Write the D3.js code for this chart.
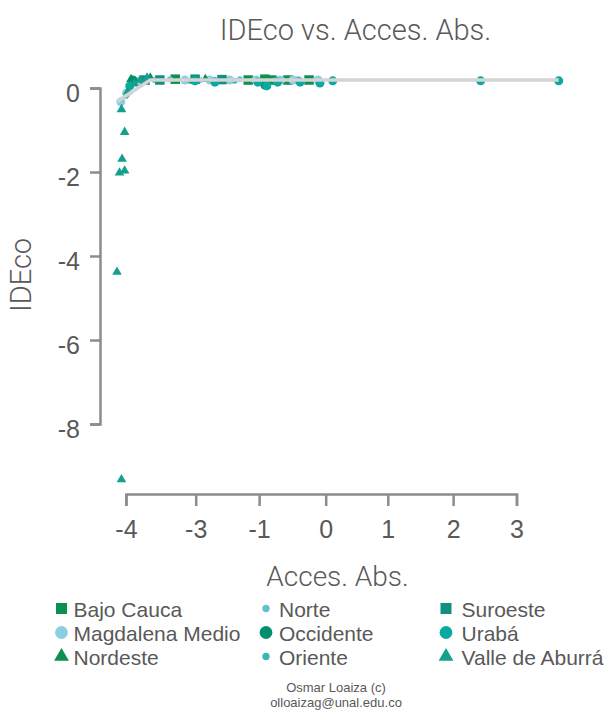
<!DOCTYPE html>
<html>
<head>
<meta charset="utf-8">
<script src="https://cdn.jsdelivr.net/npm/d3@7"></script>
<style>
  html, body { margin: 0; padding: 0; background: #fff; }
  svg { display: block; font-family: 'Liberation Sans', Arial, sans-serif; }
</style>
</head>
<body>
<svg id="chart" width="609" height="711"></svg>
<script>
// values: [Acces. Abs., IDEco]
const bajoCauca = [[-2.35, 0.21], [-1.21, 0.19], [-0.95, 0.21], [-0.84, 0.19], [-0.59, 0.19], [-0.26, 0.19]];
const magdalenaMedio = [[-3.20, -0.33], [-3.11, -0.12], [-2.93, 0.14], [-2.20, 0.19], [-1.81, 0.19], [-1.50, 0.19],
  [-1.09, 0.19], [-0.71, 0.19], [-0.51, 0.19], [-0.12, 0.19]];
const nordeste = [[-3.04, 0.21], [-2.74, 0.24], [-1.88, 0.21]];
const norte = [[-2.82, 0.19], [-2.43, 0.21], [-1.96, 0.19], [-1.34, 0.21], [-0.67, 0.19], [-0.43, 0.21]];
const occidente = [[-3.01, 0.19], [-0.95, 0.07]];
const oriente = [[-3.12, -0.19], [-2.67, 0.19], [-2.12, 0.17], [-1.73, 0.19], [-1.42, 0.17], [-0.79, 0.19]];
const suroeste = [[-2.82, 0.19], [-2.59, 0.19], [-2.04, 0.21], [-1.62, 0.20]];
const uraba = [[-3.06, 0.05], [-2.04, 0.17], [-1.73, 0.14], [-1.06, 0.14], [-0.92, 0.05], [-0.75, 0.14],
  [-0.40, 0.14], [-0.09, 0.12], [0.11, 0.17], [2.42, 0.17], [3.64, 0.17]];
const valleAburra = [[-3.19, -0.51], [-3.14, -1.05], [-3.18, -1.69], [-3.22, -2.02], [-3.14, -1.97],
  [-3.26, -4.38], [-3.19, -9.32], [-3.09, -0.08], [-2.99, 0.10], [-2.90, 0.19], [-2.79, 0.24]];

// grey trend line
const trend = [[-3.26, -0.32], [-2.74, 0.19], [3.64, 0.19]];

const Y_TICKS = [0, -2, -4, -6, -8];
const X_TICK_POS = [-3.12, -2.03, -1.04, 0, 0.97, 1.99, 2.98];
const X_TICK_LABELS = ['-4', '-3', '-1', '0', '1', '2', '3'];

const REGIONS = [
  { name: 'Bajo Cauca', data: bajoCauca },
  { name: 'Magdalena Medio', data: magdalenaMedio },
  { name: 'Nordeste', data: nordeste },
  { name: 'Norte', data: norte },
  { name: 'Occidente', data: occidente },
  { name: 'Oriente', data: oriente },
  { name: 'Suroeste', data: suroeste },
  { name: 'Urabá', data: uraba },
  { name: 'Valle de Aburrá', data: valleAburra },
];

// shape, colour, plot size, legend size
const STYLE = {
  'Bajo Cauca':      { shape: d3.symbolSquare,   color: '#0a9150', size: 90, key: 121 },
  'Magdalena Medio': { shape: d3.symbolCircle,   color: '#8bcfe0', size: 64, key: 128 },
  'Nordeste':        { shape: d3.symbolTriangle, color: '#0b8f55', size: 40, key: 95 },
  'Norte':           { shape: d3.symbolCircle,   color: '#62c1cf', size: 26, key: 42 },
  'Occidente':       { shape: d3.symbolCircle,   color: '#058e6a', size: 64, key: 128 },
  'Oriente':         { shape: d3.symbolCircle,   color: '#38b7b5', size: 26, key: 42 },
  'Suroeste':        { shape: d3.symbolSquare,   color: '#0f9080', size: 90, key: 121 },
  'Urabá':           { shape: d3.symbolCircle,   color: '#0aa9a1', size: 64, key: 128 },
  'Valle de Aburrá': { shape: d3.symbolTriangle, color: '#15a08e', size: 40, key: 95 },
};

const TEXT = '#595959';
const AXIS = '#8c8c8c';
const LIGHT = 'Roboto, sans-serif';
const PLOT = { left: 108, right: 569, top: 67, bottom: 487 };

const svg = d3.select('#chart');

const xScale = d3.scaleLinear().domain([-3.4, 3.8]).range([PLOT.left, PLOT.right]);
const yScale = d3.scaleLinear().domain([-9.5, 0.5]).range([PLOT.bottom, PLOT.top]);

// range-frame style axes: the line only spans the first to last tick
const yAxisScale = yScale.copy().domain(d3.extent(Y_TICKS)).range(d3.extent(Y_TICKS).map(yScale));
const xAxisScale = xScale.copy().domain(d3.extent(X_TICK_POS)).range(d3.extent(X_TICK_POS).map(xScale));

const yAxisG = svg.append('g')
  .attr('transform', 'translate(100,0)')
  .call(d3.axisLeft(yAxisScale).tickValues(Y_TICKS).tickSize(10).tickPadding(10).tickFormat((d) => String(d)));

const xAxisG = svg.append('g')
  .attr('transform', 'translate(0,494)')
  .call(d3.axisBottom(xAxisScale).tickValues(X_TICK_POS).tickSize(12).tickPadding(14)
    .tickFormat((d, i) => X_TICK_LABELS[i]));

[yAxisG, xAxisG].forEach((g) => {
  g.select('.domain').attr('stroke', AXIS).attr('stroke-width', 2.5);
  g.selectAll('.tick line').attr('stroke', AXIS).attr('stroke-width', 2.5);
  g.selectAll('.tick text').attr('fill', TEXT).attr('font-size', 25)
    .attr('font-family', "'Liberation Sans', Arial, sans-serif");
});
yAxisG.selectAll('.tick text').attr('dy', '0.55em');

// points
const pointsG = svg.append('g');
REGIONS.forEach((r) => {
  const st = STYLE[r.name];
  pointsG.selectAll(null)
    .data(r.data)
    .enter()
    .append('path')
    .attr('d', d3.symbol().type(st.shape).size(st.size))
    .attr('transform', (d) => `translate(${xScale(d[0])},${yScale(d[1])})`)
    .attr('fill', st.color);
});

// grey line drawn over the points
svg.append('path')
  .datum(trend)
  .attr('fill', 'none')
  .attr('stroke', '#d4d4d4')
  .attr('stroke-width', 3.5)
  .attr('stroke-linejoin', 'round')
  .attr('d', d3.line().x((d) => xScale(d[0])).y((d) => yScale(d[1])));

// titles
svg.append('text')
  .attr('x', 355.5).attr('y', 40)
  .attr('text-anchor', 'middle')
  .attr('font-family', LIGHT)
  .attr('font-weight', 300)
  .attr('font-size', 29)
  .attr('fill', TEXT)
  .text('IDEco vs. Acces. Abs.');

svg.append('text')
  .attr('x', 337.5).attr('y', 586)
  .attr('text-anchor', 'middle')
  .attr('font-family', LIGHT)
  .attr('font-weight', 300)
  .attr('font-size', 28)
  .attr('fill', TEXT)
  .text('Acces. Abs.');

svg.append('text')
  .attr('transform', 'translate(31,275) rotate(-90)')
  .attr('text-anchor', 'middle')
  .attr('font-family', LIGHT)
  .attr('font-weight', 300)
  .attr('font-size', 29)
  .attr('fill', TEXT)
  .text('IDEco');

// legend, filled column by column
const LEG_COL_SYM = [61.5, 266, 446];
const LEG_COL_TXT = [73.5, 279, 461.5];
const LEG_ROW = [608.5, 632.5, 656.5];

const legendG = svg.append('g');
REGIONS.forEach((r, i) => {
  const col = Math.floor(i / 3);
  const row = i % 3;
  const st = STYLE[r.name];
  const cy = LEG_ROW[row];
  legendG.append('path')
    .attr('d', d3.symbol().type(st.shape).size(st.key))
    .attr('transform', `translate(${LEG_COL_SYM[col]},${cy})`)
    .attr('fill', st.color);
  legendG.append('text')
    .attr('x', LEG_COL_TXT[col])
    .attr('y', cy + 8)
    .attr('font-size', 21)
    .attr('fill', TEXT)
    .text(r.name);
});

// credit
svg.append('text')
  .attr('x', 336).attr('y', 692)
  .attr('text-anchor', 'middle')
  .attr('font-size', 13)
  .attr('fill', TEXT)
  .text('Osmar Loaiza (c)');

svg.append('text')
  .attr('x', 336).attr('y', 707)
  .attr('text-anchor', 'middle')
  .attr('font-size', 13)
  .attr('fill', TEXT)
  .text('olloaizag@unal.edu.co');
</script>
</body>
</html>
